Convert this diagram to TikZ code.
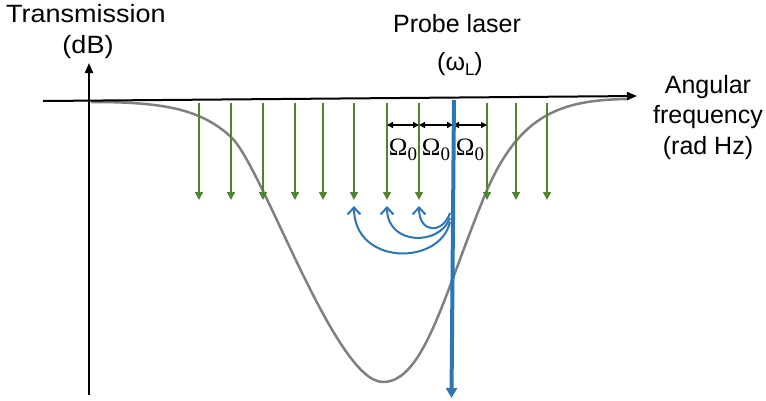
\documentclass[tikz,border=0pt]{standalone}
\usepackage{fontspec}
\setmainfont{Liberation Sans}
\newfontfamily\seriffont{Liberation Serif}
\usetikzlibrary{arrows.meta}
\definecolor{lgreen}{RGB}{84,130,53}
\definecolor{lblue}{RGB}{46,117,182}
\definecolor{lgray}{RGB}{128,128,128}
\newcommand{\omzero}{Ω\raisebox{-5pt}{\fontsize{19}{22}\selectfont 0}}
\tikzset{
  lbl/.style={font=\fontsize{25}{30}\selectfont, inner sep=0pt, anchor=base},
  omlbl/.style={font=\seriffont\fontsize{25}{30}\selectfont, inner sep=0pt, anchor=base},
  axisline/.style={line width=2pt, black, -{Triangle[length=10pt,width=8pt]}},
  comb/.style={line width=1.5pt, lgreen, -{Triangle[length=8pt,width=8pt]}},
  spacing/.style={line width=1.5pt, black, {Triangle[length=6pt,width=6pt]}-{Triangle[length=6pt,width=6pt]}},
  laser/.style={line width=4pt, lblue, -{Triangle[length=10pt,width=11pt]}},
  scatter/.style={line width=2pt, lblue, -{Straight Barb[length=7pt,width=13pt,line width=2pt]}},
  response/.style={line width=2.5pt, lgray, line cap=round}
}
\begin{document}
\begin{tikzpicture}[x=1pt,y=-1pt]
\useasboundingbox (0,0) rectangle (766,400);
% transmission curve
\draw[response] (92,102) .. controls (160,102) and (200,108) .. (231,137)
  .. controls (262,165) and (335,382) .. (383,382)
  .. controls (425,382) and (445,290) .. (487,190)
  .. controls (520,115) and (560,100) .. (627,99);
% axes
\coordinate (xs) at (43,101);
\coordinate (xe) at (637,96);
\coordinate (ys) at (89,395);
\coordinate (ye) at (89,63);
\draw[axisline] (xs) -- (xe);
\draw[axisline] (ys) -- (ye);
% comb lines
\foreach \x [count=\i] in {199,231,263,295,323,354,387,419,487,516,547}{
  \coordinate (ct\i) at (\x,103);
  \coordinate (cb\i) at (\x,200);
  \draw[comb] (ct\i) -- (cb\i);
}
% spacing arrows
\coordinate (s1) at (387,125);
\coordinate (s2) at (419,125);
\coordinate (s3) at (453,125);
\coordinate (s4) at (487,125);
\draw[spacing] (s1) -- (s2);
\draw[spacing] (s2) -- (s3);
\draw[spacing] (s3) -- (s4);
\node[omlbl] (o1) at (403,155) {\omzero};
\node[omlbl] (o2) at (436,155) {\omzero};
\node[omlbl] (o3) at (470,155) {\omzero};
% probe laser
\coordinate (lt) at (454,100);
\coordinate (lb) at (451.5,398);
\draw[laser] (lt) -- (lb);
% scattering arcs
\coordinate (a1) at (450,213);
\coordinate (a2) at (450,218);
\coordinate (a3) at (450,222);
\coordinate (e1) at (419,206);
\coordinate (e2) at (387,206);
\coordinate (e3) at (354,206);
\draw[scatter] (a1) .. controls (443,234) and (419,234) .. (e1);
\draw[scatter] (a2) .. controls (440,246) and (387,246) .. (e2);
\draw[scatter] (a3) .. controls (440,266) and (354,266) .. (e3);
% labels
\node[lbl] (t1) at (86,22) {\scalebox{1.08}[1]{Transmission}};
\node[lbl] (t2) at (88,53) {\scalebox{1.08}[1]{(dB)}};
\node[lbl] (p1) at (457,32) {Probe laser};
\node[lbl] (p2) at (460,70) {(ω\raisebox{-5pt}{\fontsize{17}{20}\selectfont L})};
\node[lbl] (f1) at (708,93) {Angular};
\node[lbl] (f2) at (708,123) {frequency};
\node[lbl] (f3) at (708,154) {(rad Hz)};
\end{tikzpicture}
\end{document}
